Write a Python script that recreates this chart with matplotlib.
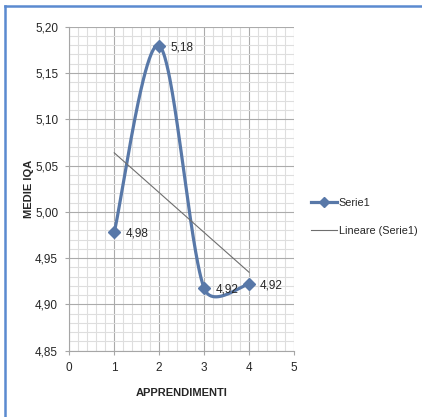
import numpy as np
import matplotlib
matplotlib.use("Agg")
import matplotlib.pyplot as plt
from matplotlib.lines import Line2D
from matplotlib.ticker import MultipleLocator, FuncFormatter

plt.rcParams['font.family'] = ['Liberation Sans', 'DejaVu Sans']

# Data
apprendimenti = [1, 2, 3, 4]
medie_iqa = [4.978, 5.1795, 4.9174, 4.922]
value_labels = ["4,98", "5,18", "4,92", "4,92"]
x_ticks = [0, 1, 2, 3, 4, 5]
y_ticks = [4.85, 4.90, 4.95, 5.00, 5.05, 5.10, 5.15, 5.20]

SERIES_COLOR = "#5878a8"
TEXT_COLOR = "#262626"

fig = plt.figure(figsize=(4.22, 4.17), dpi=100)
ax = fig.add_axes([0.1642, 0.159, 0.5325, 0.777])

ax.set_xlim(0, 5)
ax.set_ylim(4.85, 5.20)


def smooth_curve(xs, ys, ax, n=80, tension=1/6, clip=0.5):
    """Bezier smoothing in display space (Catmull-Rom style control points)."""
    pts = ax.transData.transform(np.column_stack([xs, ys]))
    m = len(pts)
    out = []
    for i in range(m - 1):
        p0 = pts[i - 1] if i > 0 else pts[i]
        p1 = pts[i]
        p2 = pts[i + 1]
        p3 = pts[i + 2] if i + 2 < m else pts[i + 1]
        seg = np.linalg.norm(p2 - p1)
        d1 = (p2 - p0) * tension
        d2 = (p3 - p1) * tension
        for d in (d1, d2):
            L = np.linalg.norm(d)
            if L > clip * seg:
                d *= clip * seg / L
        c1 = p1 + d1
        c2 = p2 - d2
        t = np.linspace(0, 1, n)[:, None]
        b = ((1 - t) ** 3) * p1 + 3 * ((1 - t) ** 2) * t * c1 + 3 * (1 - t) * t ** 2 * c2 + t ** 3 * p2
        out.append(b if i == 0 else b[1:])
    curve = np.vstack(out)
    return ax.transData.inverted().transform(curve)


# Grid
ax.xaxis.set_major_locator(MultipleLocator(1))
ax.xaxis.set_minor_locator(MultipleLocator(0.2))
ax.yaxis.set_major_locator(MultipleLocator(0.05))
ax.yaxis.set_minor_locator(MultipleLocator(0.01))
ax.grid(which='minor', color='#dedede', linewidth=0.8)
ax.grid(which='major', color='#ababab', linewidth=0.8)
ax.set_axisbelow(True)

for side in ('top', 'right'):
    ax.spines[side].set_visible(False)
ax.spines['left'].set_color('#a6a6a6')
ax.spines['bottom'].set_color('#a6a6a6')
ax.spines['left'].set_linewidth(0.8)
ax.spines['bottom'].set_linewidth(0.8)

fig.canvas.draw()
curve = smooth_curve(apprendimenti, medie_iqa, ax)
ax.plot(curve[:, 0], curve[:, 1], color=SERIES_COLOR, linewidth=2.3,
        solid_capstyle='round', zorder=3)
ax.plot(apprendimenti, medie_iqa, linestyle='none', marker='D', markersize=6.5,
        color=SERIES_COLOR, zorder=4)

# Linear trend line
slope, intercept = np.polyfit(apprendimenti, medie_iqa, 1)
tx = np.array([apprendimenti[0], apprendimenti[-1]])
ax.plot(tx, slope * tx + intercept, color='#6e6e6e', linewidth=0.8, zorder=3)

for xv, yv, lab in zip(apprendimenti, medie_iqa, value_labels):
    ax.annotate(lab, (xv, yv), xytext=(8, -1), textcoords='offset points',
                ha='left', va='center', fontsize=8.5, color=TEXT_COLOR, zorder=5)

ax.set_xticks(x_ticks)
ax.set_yticks(y_ticks)
ax.xaxis.set_major_formatter(FuncFormatter(lambda v, p: f"{v:.0f}"))
ax.yaxis.set_major_formatter(FuncFormatter(lambda v, p: f"{v:.2f}".replace('.', ',')))
ax.tick_params(which='major', length=3, color='#a6a6a6', labelsize=8.5,
               labelcolor=TEXT_COLOR, pad=5)
ax.tick_params(which='minor', length=0)

ax.set_xlabel("APPRENDIMENTI", fontsize=8, fontweight='bold', color=TEXT_COLOR, labelpad=10)
ax.set_ylabel("MEDIE IQA", fontsize=8, fontweight='bold', color=TEXT_COLOR)
ax.yaxis.set_label_coords(-0.158, 0.5)

# Legend
handles = [
    Line2D([], [], color=SERIES_COLOR, linewidth=2.3, marker='D', markersize=5),
    Line2D([], [], color='#6e6e6e', linewidth=0.8),
]
fig.legend(handles, ["Serie1", "Lineare (Serie1)"], loc='center left',
           bbox_to_anchor=(0.738, 0.48), frameon=False, fontsize=7.8,
           handlelength=2.4, handletextpad=0.1, labelspacing=1.6,
           labelcolor=TEXT_COLOR, borderaxespad=0, borderpad=0)

# Chart area border (left and top)
fig.add_artist(Line2D([0.0125, 0.0125], [0, 0.985], transform=fig.transFigure,
                      color='#5b8ad0', linewidth=1.8))
fig.add_artist(Line2D([0.0125, 1.0], [0.985, 0.985], transform=fig.transFigure,
                      color='#5b8ad0', linewidth=1.8))

fig.savefig("out.png", dpi=100)
